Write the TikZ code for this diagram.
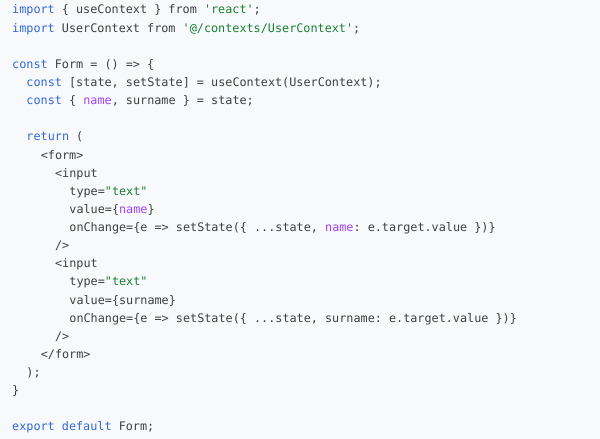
\documentclass[tikz,border=0pt]{standalone}
\usepackage{fontspec}
\newfontfamily\code{DejaVu Sans Mono}
\definecolor{bg}{HTML}{F8F9FA}
\definecolor{tx}{HTML}{3C4043}
\definecolor{kw}{HTML}{3367D6}
\definecolor{st}{HTML}{188038}
\definecolor{pu}{HTML}{A142F4}
\newcommand{\kwd}[1]{\textcolor{kw}{#1}}
\newcommand{\str}[1]{\textcolor{st}{#1}}
\newcommand{\pur}[1]{\textcolor{pu}{#1}}
\newcommand{\sq}{\char39\relax}
\frenchspacing
\begin{document}
\begin{tikzpicture}[x=1pt,y=1pt,
  ln/.style={anchor=base west,inner sep=0pt,font=\code\fontsize{11.8}{14}\selectfont\frenchspacing,text=tx}]
\fill[bg] (0,0) rectangle (600,439);
\useasboundingbox (0,0) rectangle (600,439);
\def\L#1#2#3{\node[ln] (l#1) at ({12+7.15*#2},{439-14-18.13*(#1-1)}) {#3};}
\L{1}{0}{\kwd{import} \{ useContext \} from \str{\sq react\sq};}
\L{2}{0}{\kwd{import} UserContext from \str{\sq@/contexts/UserContext\sq};}
\L{4}{0}{\kwd{const} Form = () => \{}
\L{5}{2}{\kwd{const} [state, setState] = useContext(UserContext);}
\L{6}{2}{\kwd{const} \{ \pur{name}, surname \} = state;}
\L{8}{2}{\kwd{return} (}
\L{9}{4}{<form>}
\L{10}{6}{<input}
\L{11}{8}{type=\str{"text"}}
\L{12}{8}{value=\{\pur{name}\}}
\L{13}{8}{onChange=\{e => setState(\{ ...state, \pur{name}: e.target.value \})\}}
\L{14}{6}{/>}
\L{15}{6}{<input}
\L{16}{8}{type=\str{"text"}}
\L{17}{8}{value=\{surname\}}
\L{18}{8}{onChange=\{e => setState(\{ ...state, surname: e.target.value \})\}}
\L{19}{6}{/>}
\L{20}{4}{</form>}
\L{21}{2}{);}
\L{22}{0}{\}}
\L{24}{0}{\kwd{export} \kwd{default} Form;}
\end{tikzpicture}
\end{document}
